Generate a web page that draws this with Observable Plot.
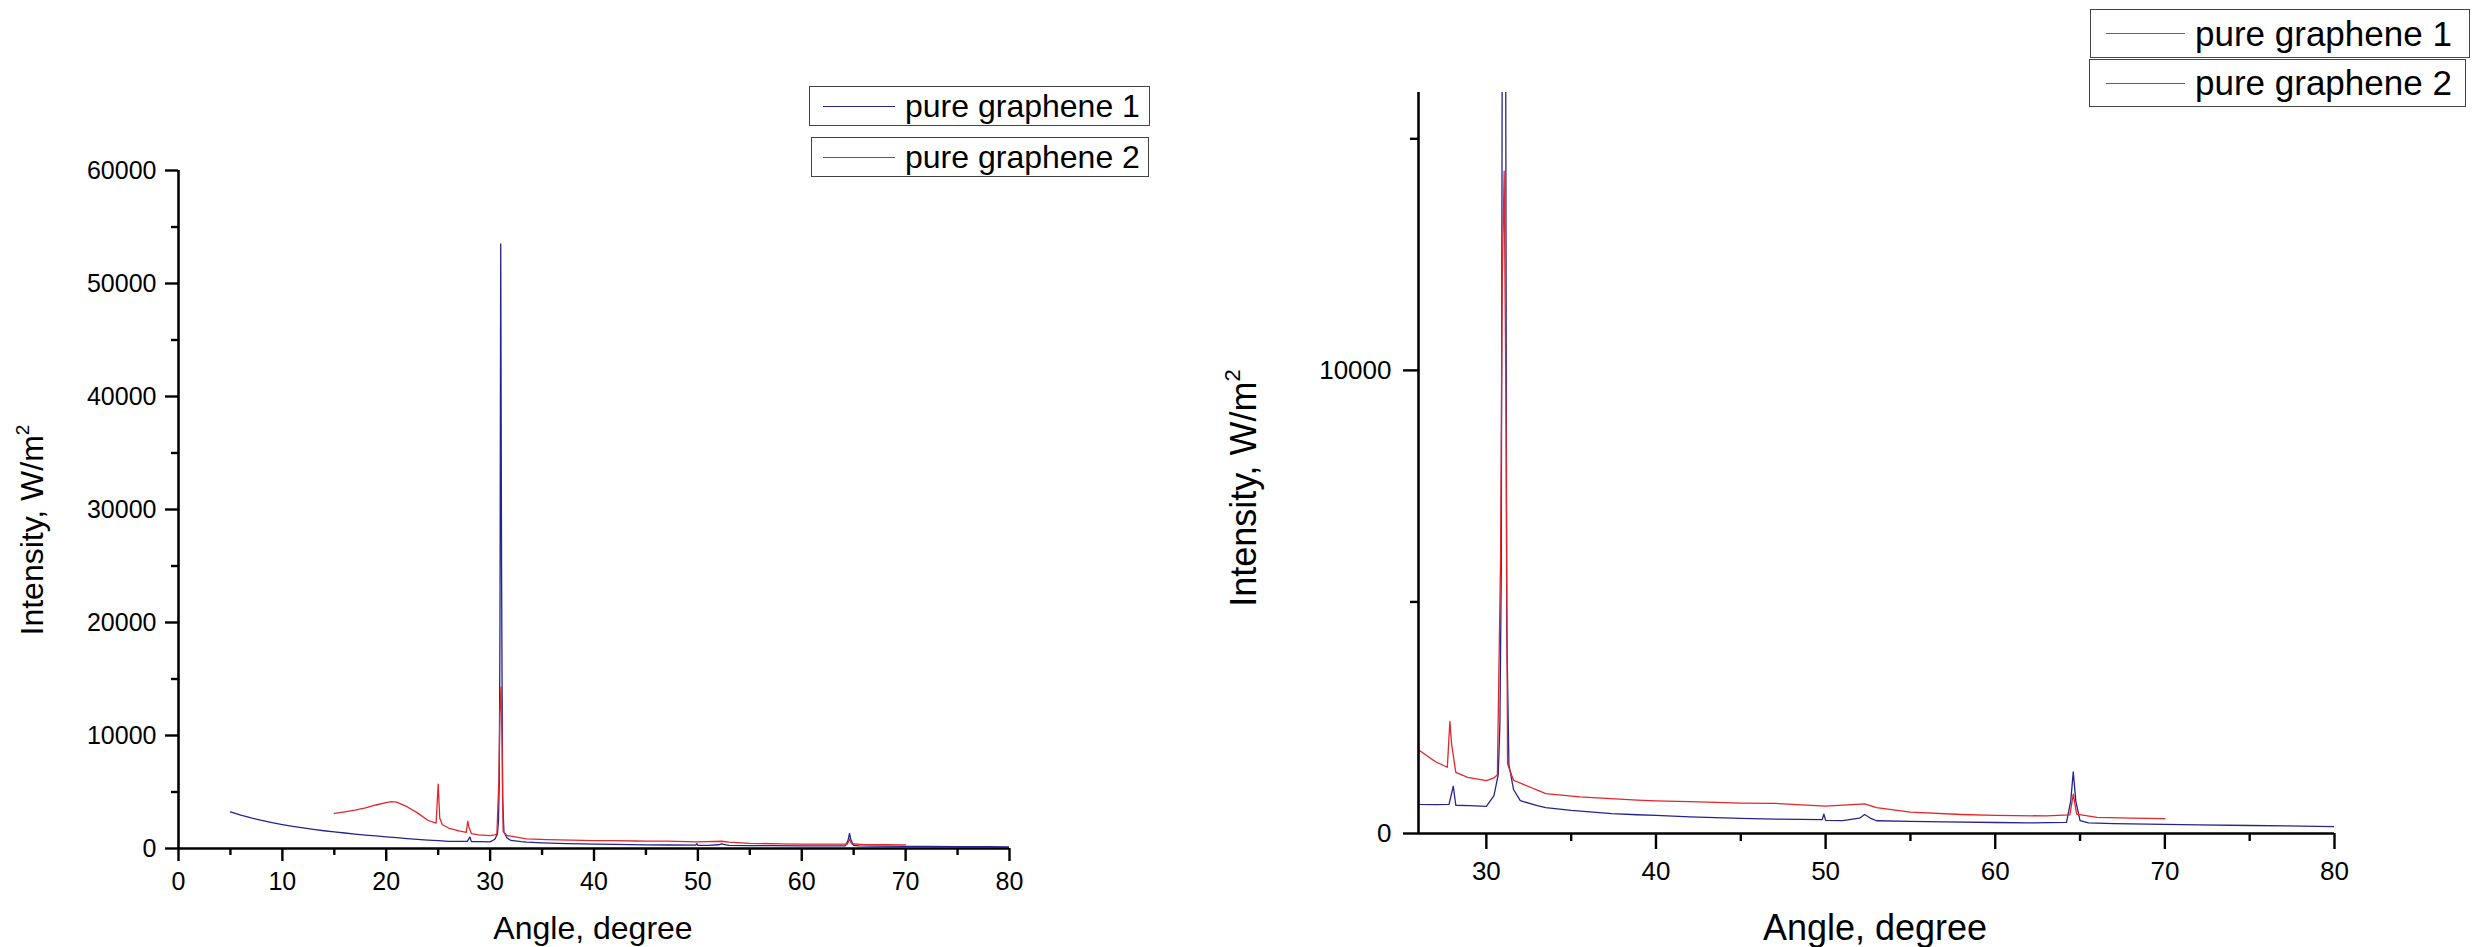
<!DOCTYPE html>
<html>
<head>
<meta charset="utf-8">
<script src="https://cdn.jsdelivr.net/npm/d3@7"></script>
<script src="https://cdn.jsdelivr.net/npm/@observablehq/plot@0.6"></script>
<style>
  html, body { margin: 0; padding: 0; background: #fff; }
  #wrap { position: relative; width: 2476px; height: 947px; overflow: hidden; font-family: "Liberation Sans", Arial, sans-serif; }
  .panel { position: absolute; top: 0; }
  .lg { position: absolute; box-sizing: border-box; border: 1.5px solid #444; background: #fff; display: flex; align-items: center; white-space: nowrap; color: #000; }
  .lg .sw { display: inline-block; height: 0; border-top: 1.5px solid; }
</style>
</head>
<body>
<div id="wrap"></div>
<script>
// ---- data ----
const seriesNames = ["pure graphene 1", "pure graphene 2"];
const seriesColors = ["#24248c", "#e3262a"];

const angle1 = [5.0, 6, 7, 8, 9, 10, 11, 12, 13, 14, 15, 16, 17, 18, 19, 20, 21, 22, 23, 24, 25, 26, 27, 27.8, 28.05, 28.2, 29, 30, 30.45, 30.7, 30.8, 30.88, 30.95, 31.02, 31.1, 31.2, 31.33, 31.6, 32, 33, 33.5, 35, 37.4, 38.9, 40, 42, 45, 47, 49.8, 49.9, 50.0, 51, 52, 52.3, 52.7, 53, 55, 57, 60, 62, 64.2, 64.45, 64.6, 64.75, 65, 65.5, 67, 70, 72, 75, 78, 80];
const intensity1 = [3240, 2950, 2700, 2480, 2290, 2120, 1960, 1820, 1690, 1570, 1470, 1370, 1280, 1190, 1110, 1030, 960, 880, 810, 740, 690, 630, 625, 630, 1020, 610, 600, 585, 820, 1270, 2370, 5700, 20000, 53500, 25000, 4500, 1490, 950, 710, 600, 560, 500, 430, 405, 390, 360, 325, 310, 300, 420, 285, 280, 330, 410, 320, 275, 260, 250, 237, 228, 240, 700, 1330, 700, 280, 230, 215, 195, 185, 173, 160, 150];

const angle2 = [15.0, 16, 17, 18, 19, 20, 20.5, 21, 22, 23, 24, 24.8, 25.0, 25.15, 25.4, 26, 27, 27.7, 27.85, 27.95, 28.2, 28.9, 30, 30.45, 30.65, 30.84, 30.94, 31.05, 31.16, 31.25, 31.6, 33.5, 35.5, 38.9, 40, 42, 44, 45, 47, 50, 52.3, 53, 55, 58, 60, 63, 64.4, 64.6, 64.8, 66, 68, 70];
const intensity2 = [3100, 3250, 3390, 3600, 3850, 4050, 4150, 4100, 3700, 3150, 2500, 2250, 5700, 2700, 2100, 1810, 1550, 1430, 2420, 1930, 1320, 1210, 1140, 1200, 1270, 6000, 12000, 14300, 9000, 1500, 1150, 860, 790, 720, 705, 690, 665, 655, 650, 590, 640, 560, 460, 410, 390, 380, 400, 850, 420, 350, 330, 320];

// axis ticks
const leftXMajor = [0, 10, 20, 30, 40, 50, 60, 70, 80];
const leftXMinor = [5, 15, 25, 35, 45, 55, 65, 75];
const leftYMajor = [0, 10000, 20000, 30000, 40000, 50000, 60000];
const leftYMinor = [5000, 15000, 25000, 35000, 45000, 55000];
const rightXMajor = [30, 40, 50, 60, 70, 80];
const rightXMinor = [35, 45, 55, 65, 75];
const rightYMajor = [0, 10000];
const rightYMinor = [5000, 15000];

const xTitle = "Angle, degree";
const yTitle = "Intensity, W/m";

// ---- build ----
const rows1 = angle1.map((a, i) => ({angle: a, intensity: intensity1[i], series: seriesNames[0]}));
const rows2 = angle2.map((a, i) => ({angle: a, intensity: intensity2[i], series: seriesNames[1]}));
const FONT = '"Liberation Sans", Arial, sans-serif';

function chart(o) {
  const axisCommon = {label: null, strokeWidth: 2.4, stroke: "#000", fill: "#000"};
  const svg = Plot.plot({
    width: o.width, height: o.height,
    marginLeft: o.ml, marginRight: o.mr, marginTop: o.mt, marginBottom: o.mb,
    x: {domain: o.xDomain},
    y: {domain: o.yDomain},
    style: {fontFamily: FONT, color: "#000", background: "transparent", overflow: "visible"},
    marks: [
      Plot.line(rows1, {x: "angle", y: "intensity", stroke: seriesColors[0], strokeWidth: 1.3, clip: true}),
      Plot.line(rows2, {x: "angle", y: "intensity", stroke: seriesColors[1], strokeWidth: 1.3, clip: true}),
      Plot.ruleY([o.yDomain[0]], {stroke: "#000", strokeWidth: 2.6}),
      Plot.ruleX([o.xDomain[0]], {stroke: "#000", strokeWidth: 2.6}),
      Plot.axisX({...axisCommon, ticks: o.xMajor, tickSize: o.tsX, tickPadding: o.tpX, fontSize: o.fs, tickFormat: d => String(d)}),
      Plot.axisX({...axisCommon, ticks: o.xMinor, tickSize: Math.round(o.tsX / 2), tickFormat: () => ""}),
      Plot.axisY({...axisCommon, ticks: o.yMajor, tickSize: o.tsY, tickPadding: o.tpY, fontSize: o.fs, tickFormat: d => String(d)}),
      Plot.axisY({...axisCommon, ticks: o.yMinor, tickSize: Math.round(o.tsY / 2), tickFormat: () => ""})
    ]
  });
  const s = d3.select(svg);
  s.append("text")
    .attr("x", o.xtX).attr("y", o.xtY)
    .attr("text-anchor", "middle")
    .style("font-family", FONT).style("font-size", o.tfs + "px").attr("fill", "#000")
    .text(xTitle);
  const yt = s.append("text")
    .attr("transform", `translate(${o.ytX},${o.ytY}) rotate(-90)`)
    .attr("text-anchor", "middle")
    .style("font-family", FONT).style("font-size", o.tfs + "px").attr("fill", "#000");
  yt.append("tspan").text(yTitle);
  yt.append("tspan").attr("dy", "-0.75em").style("font-size", Math.round(o.tfs * 0.6) + "px").text("2");
  return svg;
}

const wrap = document.getElementById("wrap");

const left = chart({
  width: 1200, height: 947, ml: 178, mr: 191, mt: 170, mb: 99,
  xDomain: [0, 80], yDomain: [0, 60000],
  xMajor: leftXMajor, xMinor: leftXMinor, yMajor: leftYMajor, yMinor: leftYMinor,
  tsX: 13, tpX: 11, tsY: 13, tpY: 9, fs: 25, tfs: 32,
  xtX: 593, xtY: 939, ytX: 43, ytY: 530
});
left.classList.add("panel"); left.style.left = "0px";
wrap.appendChild(left);

const right = chart({
  width: 1276, height: 947, ml: 218, mr: 142, mt: 92, mb: 114,
  xDomain: [26, 80], yDomain: [0, 16000],
  xMajor: rightXMajor, xMinor: rightXMinor, yMajor: rightYMajor, yMinor: rightYMinor,
  tsX: 16, tpX: 12, tsY: 15, tpY: 12, fs: 26, tfs: 36,
  xtX: 675, xtY: 940, ytX: 56, ytY: 488
});
right.classList.add("panel"); right.style.left = "1200px";
wrap.appendChild(right);

// legends
function legendBox(x, y, w, h, color, label, swX, swW, fs) {
  const d = document.createElement("div");
  d.className = "lg";
  Object.assign(d.style, {left: x + "px", top: y + "px", width: w + "px", height: h + "px", fontSize: fs + "px"});
  const sw = document.createElement("span");
  sw.className = "sw";
  Object.assign(sw.style, {borderTopColor: color, width: swW + "px", marginLeft: swX + "px", marginRight: "10px"});
  const t = document.createElement("span");
  t.textContent = label;
  d.appendChild(sw); d.appendChild(t);
  wrap.appendChild(d);
}
legendBox(809, 86, 341, 40, seriesColors[0], seriesNames[0], 13, 72, 32);
legendBox(811, 137, 338, 40, seriesColors[1], seriesNames[1], 11, 72, 32);
legendBox(2090, 9, 380, 49, "#5a5ab4", seriesNames[0], 15, 79, 35);
legendBox(2089, 59, 377, 48, "#e3262a", seriesNames[1], 16, 79, 35);
</script>
</body>
</html>
